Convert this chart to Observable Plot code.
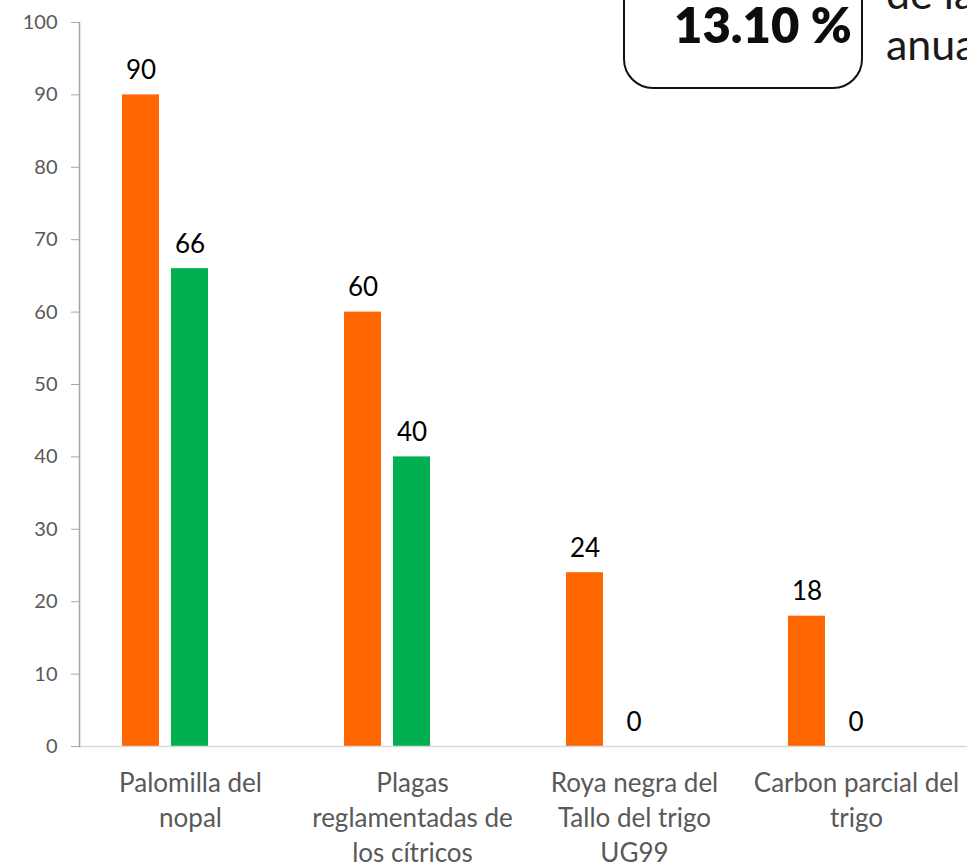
<!DOCTYPE html>
<html>
<head>
<meta charset="utf-8">
<script src="https://cdn.jsdelivr.net/npm/d3@7"></script>
<script src="https://cdn.jsdelivr.net/npm/@observablehq/plot@0.6"></script>
<style>
  html, body { margin: 0; padding: 0; background: #fff; overflow: hidden; }
  #wrap { position: relative; width: 967px; height: 868px; overflow: hidden; font-family: Lato, "Noto Sans", sans-serif; }
  #chart svg { display: block; }
  .box { position: absolute; left: 623px; top: -40px; width: 236px; height: 125px; border: 2px solid #111; border-radius: 30px; box-sizing: content-box; }
  .big { position: absolute; left: 674px; top: -5px; font-size: 49px; font-weight: 800; color: #0d0d0d; white-space: nowrap; }
  .side { position: absolute; left: 886px; top: -33px; font-size: 43px; line-height: 51px; color: #1a1a1a; white-space: nowrap; }
</style>
</head>
<body>
<div id="wrap">
  <div id="chart"></div>
  <div class="box"></div>
  <div class="big">13.10 %</div>
  <div class="side">de la meta<br>anual</div>
</div>
<script>
const categories = [
  "Palomilla del\nnopal",
  "Plagas\nreglamentadas de\nlos cítricos",
  "Roya negra del\nTallo del trigo\nUG99",
  "Carbon parcial del\ntrigo"
];
const seriesNames = ["Serie 1", "Serie 2", "Serie 3"];
const serie1 = [90, 60, 24, 18];
const serie2 = [66, 40, 0, 0];
const yTicks = [0, 10, 20, 30, 40, 50, 60, 70, 80, 90, 100];
const colors = ["#FF6600", "#00B050", "#A5A5A5"];

const data = [];
categories.forEach((c, i) => {
  data.push({cat: c, serie: seriesNames[0], value: serie1[i]});
  data.push({cat: c, serie: seriesNames[1], value: serie2[i]});
});

const chart = Plot.plot({
  width: 967,
  height: 868,
  marginLeft: 78,
  marginRight: 0,
  marginTop: 22,
  marginBottom: 122,
  style: {fontFamily: "Lato, 'Noto Sans', sans-serif", background: "#fff"},
  fx: {domain: categories, padding: 0, label: null, axis: null},
  x: {domain: seriesNames, paddingInner: 0.24, paddingOuter: 0.85, axis: null},
  y: {domain: [0, 100], axis: null},
  color: {domain: seriesNames, range: colors},
  marks: [
    Plot.barY(data, {fx: "cat", x: "serie", y: "value", fill: "serie"}),
    Plot.ruleY([0], {stroke: "#d9d9d9", strokeWidth: 1.5}),
    Plot.text(data, {fx: "cat", x: "serie", y: "value", text: d => String(d.value), lineAnchor: "bottom", dy: -16, fontSize: 26, fill: "#000"}),
    Plot.frame({anchor: "left", stroke: "#a6a6a6", strokeWidth: 1.5, facetAnchor: "left"}),
    Plot.axisY({ticks: yTicks, tickSize: 8, tickPadding: 14, fontSize: 20, stroke: "#a6a6a6", fill: "#595959", label: null, tickFormat: d => String(d)}),
    Plot.axisFx({anchor: "bottom", tickSize: 0, tickPadding: 20, fontSize: 26, fill: "#595959", lineHeight: 1.36, label: null, tickFormat: d => d})
  ]
});
document.getElementById("chart").appendChild(chart);
</script>
</body>
</html>
